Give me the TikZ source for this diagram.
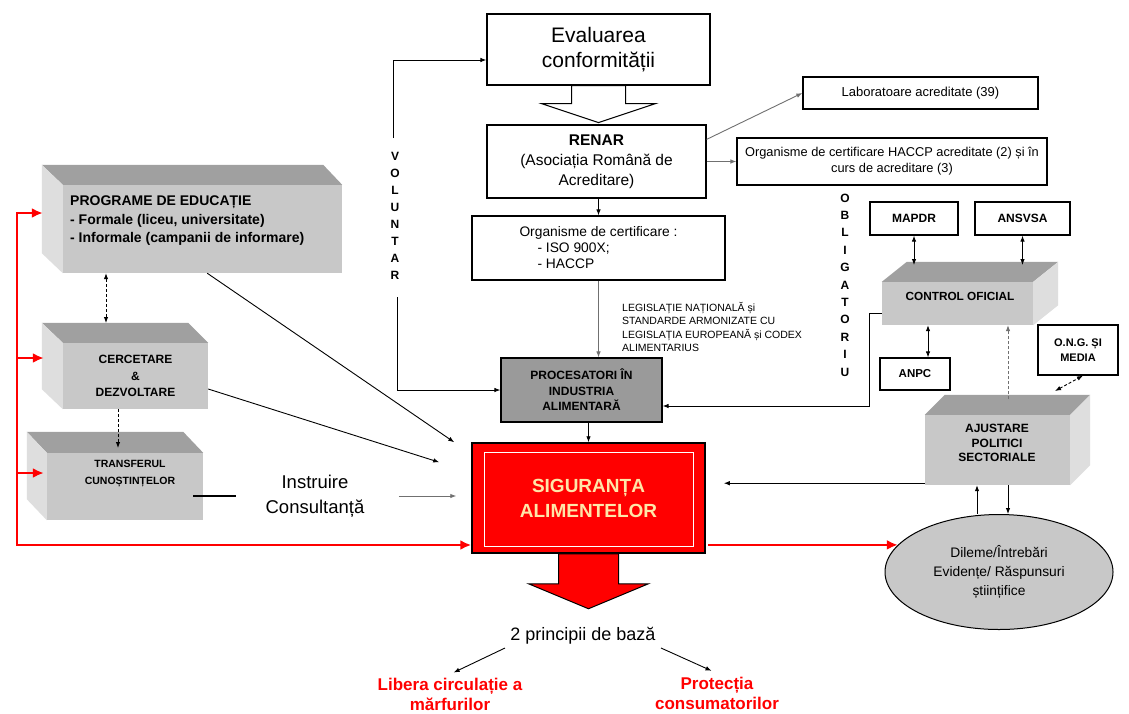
\documentclass[tikz,border=0pt]{standalone}
\usepackage{fontspec}
\setmainfont{Liberation Sans}
\usetikzlibrary{arrows.meta,shapes.geometric}
\newcommand{\fs}[2]{\fontsize{#1}{#2}\selectfont}
\definecolor{frontgray}{HTML}{C8C8C8}
\definecolor{topgray}{HTML}{A0A0A0}
\definecolor{sidegray}{HTML}{DEDEDE}
\definecolor{procgray}{HTML}{9A9A9A}
\definecolor{lightyel}{HTML}{FFE6A8}
\definecolor{linegray}{HTML}{707070}
\begin{document}
\begin{tikzpicture}[x=1pt,y=-1pt,
  box/.style={draw, line width=1.2pt, fill=white, inner sep=2pt, align=center},
  front/.style={fill=frontgray, inner sep=2pt, align=center},
  conn/.style={line width=0.9pt, -{Latex[length=6pt,width=4.5pt]}},
  dconn/.style={line width=0.9pt, {Latex[length=6pt,width=4.5pt]}-{Latex[length=6pt,width=4.5pt]}},
  redconn/.style={red, line width=2.4pt, line cap=rect, -{Latex[length=11pt,width=10pt]}},
  dsh/.style={dash pattern=on 3pt off 2pt}]
\useasboundingbox (0,0) rectangle (1129,713);
\fill[white] (0,0) rectangle (1129,713);

% ---- top column
\node[box, minimum width=223pt, minimum height=71pt, font=\fs{21}{25}] (eval) at (598.5,49.5) {Evaluarea\\conformității};
\draw[fill=white, line width=1pt] ([xshift=-27pt]eval.south) -- ++(54,0) -- ++(0,18) -- ++(30,0) -- ++(-57,19) -- ++(-57,-19) -- ++(30,0) -- cycle;
\node[box, minimum width=219pt, minimum height=73pt, font=\fs{15.5}{20}] (renar) at (596.5,161.5) {\textbf{RENAR}\\(Asociația Română de\\Acreditare)};
\node[box, minimum width=235pt, minimum height=32pt, font=\fs{13}{15}] (lab) at (920.5,93) {Laboratoare acreditate (39)};
\node[box, minimum width=310pt, minimum height=47pt, font=\fs{12.8}{16}] (haccp) at (892,161.5) {Organisme de certificare HACCP acreditate (2) și în\\curs de acreditare (3)};
\node[box, align=left, minimum width=253pt, minimum height=64pt, font=\fs{13.8}{16}] (orgcert) at (598.5,248) {Organisme de certificare :\\\hspace*{18pt}- ISO 900X;\\\hspace*{18pt}- HACCP};
\node[anchor=north west, align=left, inner sep=0, font=\fs{10.5}{13.5}] (legis) at (622,302) {LEGISLAȚIE NAȚIONALĂ și\\STANDARDE ARMONIZATE CU\\LEGISLAȚIA EUROPEANĂ și CODEX\\ALIMENTARIUS};
\node[draw, line width=1.2pt, fill=procgray, minimum width=161pt, minimum height=64pt, align=center, font=\bfseries\fs{12}{15.5}] (proc) at (581.5,390) {PROCESATORI ÎN\\INDUSTRIA\\ALIMENTARĂ};

% ---- siguranta
\node[draw, line width=1.5pt, fill=red, minimum width=233pt, minimum height=110pt, align=center, text=lightyel, font=\bfseries\fs{19}{25}] (sig) at (588.5,498) {SIGURANȚA\\ALIMENTELOR};
\draw[white, line width=1pt] ([shift={(13,10)}]sig.north west) rectangle ([shift={(-12,-7)}]sig.south east);
\draw[fill=red, line width=1pt] ([xshift=-30pt]sig.south) -- ++(60,0) -- ++(0,30) -- ++(30,0) -- ++(-60,25) -- ++(-60,-25) -- ++(30,0) -- cycle;

% ---- vertical words
\node[align=center, font=\bfseries\fs{12}{17}] (vol) at (395,216) {V\\O\\L\\U\\N\\T\\A\\R};
\node[align=center, font=\bfseries\fs{12}{17.4}] (obl) at (845,285) {O\\B\\L\\I\\G\\A\\T\\O\\R\\I\\U};

% ---- right side
\node[box, minimum width=88pt, minimum height=33pt, font=\bfseries\fs{12}{14}] (mapdr) at (914,218.5) {MAPDR};
\node[box, minimum width=95pt, minimum height=33pt, font=\bfseries\fs{12}{14}] (ansvsa) at (1022.5,218.5) {ANSVSA};
\node[front, minimum width=151pt, minimum height=43pt] (ctl) at (957.5,303.5) {};
\fill[topgray] (ctl.north west) -- ++(25,-20) -- ([shift={(25,-20)}]ctl.north east) -- (ctl.north east) -- cycle;
\fill[sidegray] (ctl.north east) -- ++(25,-20) -- ([shift={(25,-20)}]ctl.south east) -- (ctl.south east) -- cycle;
\node[font=\bfseries\fs{11.8}{13}] (ctltxt) at (960,296) {CONTROL OFICIAL};
\node[box, minimum width=70pt, minimum height=32pt, font=\bfseries\fs{11.5}{14}] (anpc) at (915,374) {ANPC};
\node[box, minimum width=80pt, minimum height=50pt, font=\bfseries\fs{11}{15}] (ong) at (1078,350) {O.N.G. ȘI\\MEDIA};
\node[front, minimum width=145pt, minimum height=70pt] (ajust) at (997.5,450) {};
\fill[topgray] (ajust.north west) -- ++(20,-20) -- ([shift={(20,-20)}]ajust.north east) -- (ajust.north east) -- cycle;
\fill[sidegray] (ajust.north east) -- ++(20,-20) -- ([shift={(20,-20)}]ajust.south east) -- (ajust.south east) -- cycle;
\node[align=center, font=\bfseries\fs{12}{14.5}] (ajtxt) at (997,443) {AJUSTARE\\POLITICI\\SECTORIALE};
\node[ellipse, draw, line width=1pt, fill=frontgray, minimum width=228pt, minimum height=115pt, inner sep=0, align=center, font=\fs{13.8}{19}] (ell) at (999,572) {Dileme/Întrebări\\Evidențe/ Răspunsuri\\științifice};

% ---- left side
\node[front, minimum width=279pt, minimum height=88pt] (prog) at (202.5,229) {};
\fill[topgray] (prog.north west) -- ++(-21,-20) -- ([shift={(-19,-20)}]prog.north east) -- (prog.north east) -- cycle;
\fill[sidegray] (prog.north west) -- ++(-21,-20) -- ([shift={(-21,-20)}]prog.south west) -- (prog.south west) -- cycle;
\node[anchor=north west, align=left, inner sep=0, font=\bfseries\fs{14}{18.5}] (progtxt) at (70,196) {PROGRAME DE EDUCAȚIE\\- Formale (liceu, universitate)\\- Informale (campanii de informare)};
\node[front, minimum width=145pt, minimum height=66pt, font=\bfseries\fs{12}{16.5}] (cerc) at (135.5,376) {CERCETARE\\\&\\DEZVOLTARE};
\fill[topgray] (cerc.north west) -- ++(-21,-20) -- ([shift={(-20,-20)}]cerc.north east) -- (cerc.north east) -- cycle;
\fill[sidegray] (cerc.north west) -- ++(-21,-20) -- ([shift={(-21,-20)}]cerc.south west) -- (cerc.south west) -- cycle;
\node[front, minimum width=156pt, minimum height=67pt] (trans) at (125,486.5) {};
\fill[topgray] (trans.north west) -- ++(-20,-21) -- ([shift={(-20,-21)}]trans.north east) -- (trans.north east) -- cycle;
\fill[sidegray] (trans.north west) -- ++(-20,-21) -- ([shift={(-20,-21)}]trans.south west) -- (trans.south west) -- cycle;
\node[align=center, font=\bfseries\fs{10.5}{17}] (transtxt) at (130,474) {TRANSFERUL\\CUNOȘTINȚELOR};
\node[align=center, font=\fs{18.5}{25}] (instr) at (315,496) {Instruire\\Consultanță};

% ---- bottom
\node[font=\fs{18}{20}] (princ) at (583,636) {2 principii de bază};
\node[align=center, text=red, font=\bfseries\fs{17}{20}] (lib) at (450,694) {Libera circulație a\\mărfurilor};
\node[align=center, text=red, font=\bfseries\fs{17}{20}] (prot) at (717,693) {Protecția\\consumatorilor};

% ---- coordinates
\coordinate (v1) at (393,138);
\coordinate (v2) at (393,60);
\coordinate (v3) at (397,297);
\coordinate (c1) at (869,313.5);
\coordinate (ctltop) at (0,265);
\coordinate (ajtop) at (1008,399);
\coordinate (ajong) at (1055,391);
\coordinate (r1) at (17,213);
\coordinate (r2) at (17,358);
\coordinate (r3) at (17,473);
\coordinate (r4) at (17,545);
\coordinate (pc) at (106,323);
\coordinate (ct) at (118,448);

% ---- connectors
\draw[conn] (v1) -- (v2) -- (v2 -| eval.west);
\draw[conn] (v3) |- (proc.west);
\draw[conn, linegray] ([yshift=-15pt]renar.north east) -- (lab.west);
\draw[conn, linegray] (haccp.west -| renar.east) -- (haccp.west);
\draw[conn] (orgcert.north |- renar.south) -- (orgcert.north);
\draw[conn, linegray] (orgcert.south) -- (orgcert.south |- proc.north);
\draw[conn] (sig.north |- proc.south) -- (sig.north);
\draw[conn] ([yshift=-10pt]ctl.west) -- (c1) |- ([yshift=-16pt]proc.east);
\draw[dconn] (mapdr.south) -- (mapdr.south |- ctltop);
\draw[dconn] (ansvsa.south) -- (ansvsa.south |- ctltop);
\draw[dconn] ([xshift=13pt]anpc.north) -- ([xshift=13pt]anpc.north |- ctl.south);
\draw[conn, dsh, linegray] (ajtop) -- (ajtop |- ctl.south);
\draw[dconn, dsh] (ajong) -- ([xshift=5pt]ong.south);
\draw[conn, shorten >=18pt] ([yshift=2pt]ajust.south west) -- ([yshift=2pt]ajust.south west -| sig.east);
\draw[conn] ([xshift=-22pt]ell.north) -- ([xshift=-22pt]ell.north |- ajust.south);
\draw[conn] ([xshift=9pt]ell.north |- ajust.south) -- ([xshift=9pt]ell.north);
\draw[redconn, shorten <=3pt] (sig.east |- ell.165) -- (ell.165);
\draw[redconn] (r1) -- (r4) -- (sig.west |- r4);
\draw[redconn] (r1) -- ([xshift=-20pt]prog.west |- r1);
\draw[redconn] (r2) -- ([xshift=-19pt]cerc.west |- r2);
\draw[redconn] (r3) -- ([xshift=-3pt]trans.west |- r3);
\draw[conn] ([xshift=-135pt]prog.south east) -- ([xshift=-17pt]sig.north west);
\draw[conn] ([yshift=-13pt]cerc.east) -- ([shift={(-32,20)}]sig.north west);
\draw[line width=1.2pt, shorten >=26pt] ([xshift=-10pt]trans.east |- instr.west) -- (instr.west);
\draw[conn, linegray, shorten <=31pt, shorten >=15pt] (instr.east) -- (sig.west |- instr.east);
\draw[dconn, dsh] (pc |- prog.south) -- (pc);
\draw[conn, dsh] (ct |- cerc.south) -- (ct);
\draw[conn, shorten >=4pt] ([xshift=-2pt]princ.south west) -- (lib.north);
\draw[conn, shorten >=6pt] ([xshift=2pt]princ.south east) -- (prot.north);
\end{tikzpicture}
\end{document}
